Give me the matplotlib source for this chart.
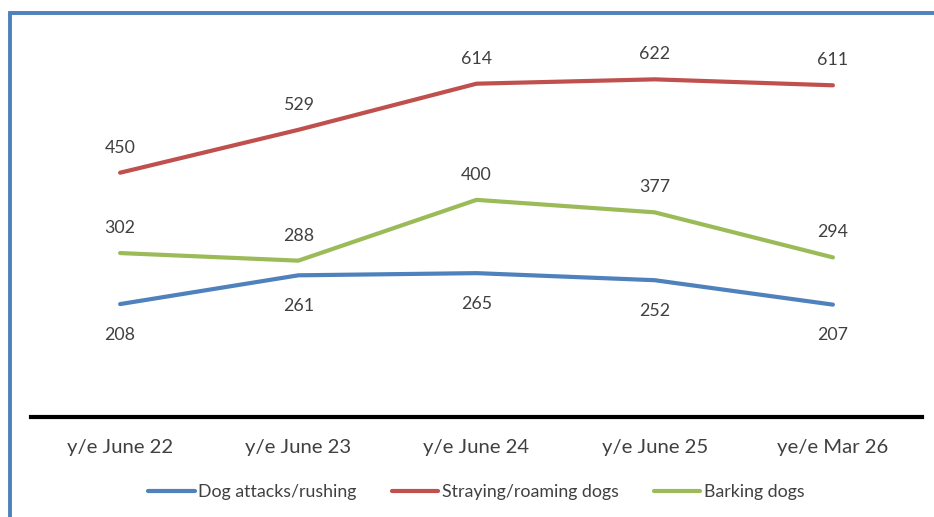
import matplotlib.pyplot as plt
from matplotlib.patches import Rectangle

# complaint counts by year
periods = ["y/e June 22", "y/e June 23", "y/e June 24", "y/e June 25", "ye/e Mar 26"]
attacks = [208, 261, 265, 252, 207]
straying = [450, 529, 614, 622, 611]
barking = [302, 288, 400, 377, 294]

blue = "#4F81BD"
red = "#C0504D"
green = "#9BBB59"
grey = "#404040"

plt.rcParams["font.family"] = ["Lato", "DejaVu Sans"]

fig = plt.figure(figsize=(9.34, 5.17), dpi=100)
ax = fig.add_axes([31 / 934, 100 / 517, 891 / 934, 380 / 517])

x = list(range(len(periods)))
ax.plot(x, attacks, color=blue, lw=3, solid_capstyle="round", label="Dog attacks/rushing")
ax.plot(x, straying, color=red, lw=3, solid_capstyle="round", label="Straying/roaming dogs")
ax.plot(x, barking, color=green, lw=3, solid_capstyle="round", label="Barking dogs")

# value labels: red and green above, blue below
for i in x:
    ax.annotate(str(straying[i]), (i, straying[i]), xytext=(0, 18), textcoords="offset points",
                ha="center", va="center", fontsize=12.8, color=grey)
    ax.annotate(str(barking[i]), (i, barking[i]), xytext=(0, 18), textcoords="offset points",
                ha="center", va="center", fontsize=12.8, color=grey)
    ax.annotate(str(attacks[i]), (i, attacks[i]), xytext=(0, -22), textcoords="offset points",
                ha="center", va="center", fontsize=12.8, color=grey)

ax.set_xlim(-0.5, 4.5)
ax.set_ylim(0, 700)
ax.set_xticks(x)
ax.set_xticklabels(periods, fontsize=14.6, color=grey)
ax.tick_params(axis="x", length=0, pad=16)
ax.set_yticks([])
for side in ["top", "left", "right"]:
    ax.spines[side].set_visible(False)
ax.spines["bottom"].set_linewidth(3)
ax.spines["bottom"].set_color("black")

ax.legend(loc="center", bbox_to_anchor=(0.5, -0.197), ncol=3, frameon=False,
          fontsize=12.8, labelcolor=grey, handlelength=2.6, handletextpad=0.2,
          columnspacing=2.0)

# blue chart frame running off the right and bottom edges
frame = Rectangle((10 / 934, -0.1), 1.1, (517 - 13) / 517 + 0.1, transform=fig.transFigure,
                  fill=False, edgecolor=blue, lw=2.8, clip_on=False)
fig.patches.append(frame)

fig.savefig("out.png", dpi=100)
